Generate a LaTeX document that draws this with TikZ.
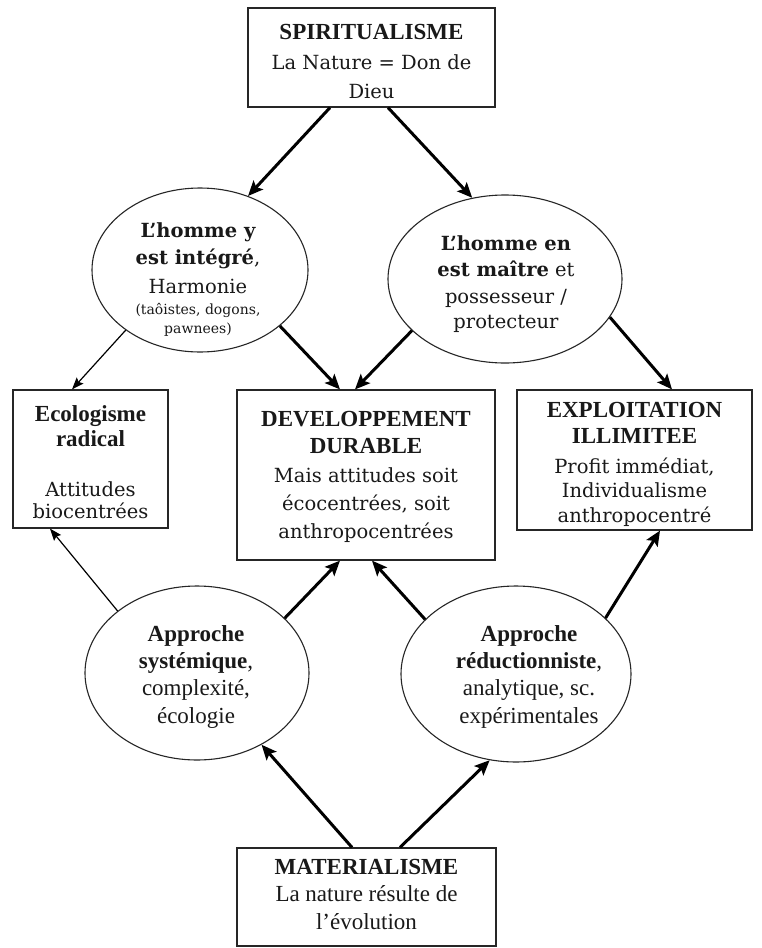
\documentclass[tikz,border=0pt]{standalone}
\usepackage{fontspec}
\setmainfont{Liberation Serif}
\newfontfamily\camfont{DejaVu Serif}
\usetikzlibrary{arrows.meta,shapes.geometric,calc}
\newcommand\cam{\camfont\fontsize{19.5}{27.5}\selectfont}
\newcommand\camsm{\camfont\fontsize{14}{20}\selectfont}
\begin{document}
\begin{tikzpicture}[x=1pt,y=-1pt,
 box/.style={draw=black!85,line width=1.2pt,inner sep=0pt},
 ell/.style={draw=black!85,ellipse,line width=1.1pt,inner sep=0pt},
 txt/.style={align=center,inner sep=0pt,text=black!90,font=\fontsize{23}{27.5}\selectfont},
 thk/.style={line width=3pt,-{Stealth[length=15pt,width=13pt,inset=3pt]}},
 thn/.style={line width=1.2pt,-{Stealth[length=12pt,width=9pt,inset=2pt]}}]
\useasboundingbox (0,0) rectangle (761,948);
\fill[white] (0,0) rectangle (761,948);

% boxes
\node[box,minimum width=247pt,minimum height=99pt] (spi) at (371.5,57.5) {};
\node[box,minimum width=155pt,minimum height=138pt] (eco) at (90.5,459) {};
\node[box,minimum width=258pt,minimum height=170pt] (dev) at (366,475) {};
\node[box,minimum width=235pt,minimum height=140pt] (exp) at (634.5,460) {};
\node[box,minimum width=259pt,minimum height=98pt] (mat) at (366.5,897) {};

\node[txt] (spit) at (371.5,62)
 {\textbf{SPIRITUALISME}\\[2pt]{\cam La Nature = Don de}\\[2pt]{\cam Dieu}};
\node[txt] (ecot) at (90.5,462)
 {\textbf{Ecologisme}\\[-2pt]\textbf{radical}\\[22pt]{\cam Attitudes}\\[-5pt]{\cam biocentrées}};
\node[txt] (devt) at (366,477)
 {\textbf{DEVELOPPEMENT}\\[-1pt]\textbf{DURABLE}\\[2pt]{\cam Mais attitudes soit}\\[0pt]{\cam écocentrées, soit}\\[1pt]{\cam anthropocentrées}};
\node[txt] (expt) at (634.5,464)
 {\textbf{EXPLOITATION}\\[-1pt]\textbf{ILLIMITEE}\\[2pt]{\cam Profit immédiat,}\\[-3pt]{\cam Individualisme}\\[-3pt]{\cam anthropocentré}};
\node[txt] (matt) at (366.5,894)
 {\textbf{MATERIALISME}\\La nature résulte de\\l’évolution};

% ellipses
\node[ell,minimum width=216pt,minimum height=164pt] (ul) at (200,270) {};
\node[ell,minimum width=234pt,minimum height=168pt] (ur) at (505,279) {};
\node[ell,minimum width=224pt,minimum height=174pt] (ll) at (197,673) {};
\node[ell,minimum width=230pt,minimum height=176pt] (lr) at (516,674) {};

\node[txt] (ult) at (198,280)
 {{\cam\bfseries L’homme y}\\[-1pt]{\cam\bfseries est intégré}{\cam ,}\\[2pt]{\cam Harmonie}\\[-7pt]{\camsm (taôistes, dogons,}\\[-8pt]{\camsm pawnees)}};
\node[txt] (urt) at (506,284)
 {{\cam\bfseries L’homme en}\\[-1pt]{\cam\bfseries est maître}{\cam\ et}\\[-1pt]{\cam possesseur /}\\[-2pt]{\cam protecteur}};
\node[txt] (llt) at (196,677)
 {\textbf{Approche}\\[-1pt]\textbf{systémique},\\complexité,\\écologie};
\node[txt] (lrt) at (529,677)
 {\textbf{Approche}\\[-1pt]\textbf{réductionniste},\\analytique, sc.\\expérimentales};

% connectors
\draw[thk] ([xshift=-41.5pt]spi.south) -- (ul.57.3);
\draw[thk] ([xshift=16.5pt]spi.south) -- (ur.112.9);
\draw[thn] (ul.219.2) -- ([xshift=-18.5pt]eco.north);
\draw[thk] (ul.-35) -- ([xshift=-26pt]dev.north);
\draw[thk] (ur.209.5) -- ([xshift=-11pt]dev.north);
\draw[thk] (ur.-20.9) -- ([xshift=37.5pt]exp.north);
\draw[thn] (ll.142.7) -- ([xshift=-40.5pt]eco.south);
\draw[thk] (ll.32.6) -- ([xshift=-26pt]dev.south);
\draw[thk] (lr.149.9) -- ([xshift=6pt]dev.south);
\draw[thk] (lr.32.7) -- ([xshift=25.5pt]exp.south);
\draw[thk] ([xshift=-14.5pt]mat.north) -- (ll.-48);
\draw[thk] ([xshift=33.5pt]mat.north) -- (lr.-107.4);
\end{tikzpicture}
\end{document}
